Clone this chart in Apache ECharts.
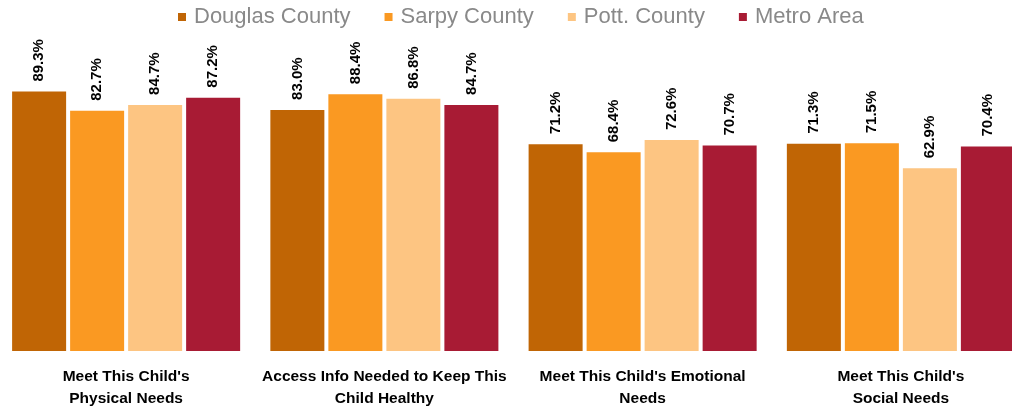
<!DOCTYPE html>
<html>
<head>
<meta charset="utf-8">
<style>
html,body{margin:0;padding:0;background:#fff;}
#chart{width:1012px;height:410px;}
</style>
<script src="https://cdn.jsdelivr.net/npm/echarts@6/dist/echarts.min.js"></script>
</head>
<body>
<div id="chart"></div>
<script>
const categories = [
  "Meet This Child's\nPhysical Needs",
  "Access Info Needed to Keep This\nChild Healthy",
  "Meet This Child's Emotional\nNeeds",
  "Meet This Child's\nSocial Needs"
];
const seriesNames = ['Douglas County', 'Sarpy County', 'Pott. County', 'Metro Area'];
const douglas = [89.3, 83.0, 71.2, 71.3];
const sarpy = [82.7, 88.4, 68.4, 71.5];
const pott = [84.7, 86.8, 72.6, 62.9];
const metro = [87.2, 84.7, 70.7, 70.4];
const colors = ['#C06505', '#FA9922', '#FDC582', '#A81B34'];

const boldFont = "'Liberation Sans', Arial, sans-serif";
const values = [douglas, sarpy, pott, metro];

const chart = echarts.init(document.getElementById('chart'));
chart.setOption({
  animation: false,
  color: colors,
  legend: {
    data: seriesNames,
    left: 173,
    top: 1,
    icon: 'rect',
    itemWidth: 8,
    itemHeight: 8,
    itemGap: 34,
    textStyle: {
      color: '#898989',
      fontSize: 22,
      fontFamily: "'Liberation Sans', Arial, sans-serif",
      padding: [0, 0, 0, 3]
    }
  },
  grid: { left: -3, width: 1033, top: 60.5, bottom: 59, containLabel: false, outerBoundsMode: 'none' },
  xAxis: {
    type: 'category',
    data: categories,
    axisLine: { show: false },
    axisTick: { show: false },
    axisLabel: {
      interval: 0,
      margin: 15,
      color: '#000',
      fontWeight: 'bold',
      fontSize: 15.5,
      lineHeight: 22,
      fontFamily: boldFont
    }
  },
  yAxis: {
    type: 'value',
    min: 0,
    max: 100,
    show: false,
    splitLine: { show: false }
  },
  series: seriesNames.map((name, i) => ({
    name: name,
    type: 'bar',
    data: values[i],
    barGap: '7.4%',
    barCategoryGap: '11.7%',
    itemStyle: { color: colors[i] },
    label: {
      show: true,
      position: 'top',
      rotate: 90,
      align: 'left',
      verticalAlign: 'middle',
      distance: 10,
      color: '#000',
      fontWeight: 'bold',
      fontSize: 15,
      fontFamily: boldFont,
      formatter: p => p.value.toFixed(1) + '%'
    }
  }))
});
</script>
</body>
</html>
